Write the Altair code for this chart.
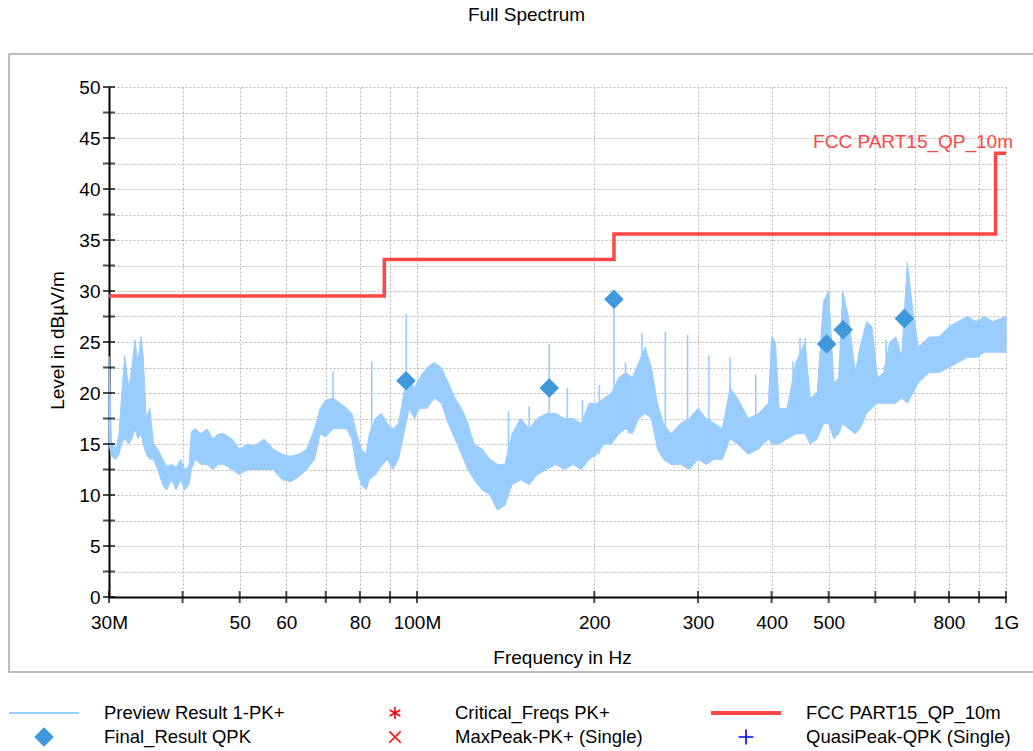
import altair as alt
import pandas as pd

FONT = "Liberation Sans"
TRACE = "#99CCFF"
DIAMOND = "#3F98DC"
LIMIT = "#FF4646"

# ---- Preview Result 1-PK+ (envelope of the dense trace), MHz / dBuV/m ----
pv_freq = [30.0, 30.3, 30.8, 31.2, 31.5, 31.9, 32.4, 32.8, 33.2, 33.6,
           34.0, 34.3, 34.7, 35.2, 35.7, 36.3, 37.0, 37.6, 38.3, 39.0,
           39.7, 40.3, 41.0, 41.4, 42.0, 43.0, 44.0, 45.0, 46.0, 47.0,
           48.5, 50.0, 51.5, 53.0, 55.0, 57.0, 59.0, 61.0, 63.0, 65.0,
           67.0, 68.5, 70.0, 72.0, 74.0, 76.0, 77.5, 79.0, 80.5, 82.0,
           83.0, 85.0, 87.0, 89.0, 91.0, 93.0, 95.0, 97.0, 99.0, 101,
           104, 107, 110, 113, 116, 119, 122, 125, 129, 133,
           137, 141, 145, 150, 155, 160, 166, 172, 178, 184,
           190, 196, 202, 208, 214, 220, 226, 232, 238, 244,
           250, 256, 262, 270, 280, 290, 300, 310, 320, 330,
           340, 350, 365, 380, 395, 400, 406, 412, 425, 440,
           456, 465, 478, 490, 500, 510, 520, 528, 540, 555,
           565, 580, 592, 605, 620, 635, 650, 665, 680, 695,
           710, 740, 770, 800, 830, 860, 890, 920, 950, 1000]
pv_low = [15.0, 13.8, 13.5, 14.0, 15.0, 15.5, 15.0, 15.5, 16.5, 15.5,
          16.0, 15.0, 14.0, 13.5, 13.5, 12.5, 11.0, 10.5, 11.5, 10.5,
          11.5, 10.5, 11.0, 12.5, 13.5, 13.0, 13.0, 12.5, 13.0, 13.0,
          12.5, 12.0, 12.5, 12.5, 12.5, 12.5, 11.5, 11.3, 11.8, 12.5,
          13.5, 16.0, 15.7, 16.5, 16.5, 16.5, 15.5, 12.5, 11.0, 10.5,
          11.5, 12.0, 12.8, 13.5, 12.5, 13.5, 16.0, 18.5, 17.5, 18.5,
          18.5, 19.5, 19.0, 17.0, 15.5, 14.0, 12.5, 11.5, 10.5, 10.0,
          8.5, 9.0, 11.0, 11.5, 11.0, 12.0, 12.5, 13.0, 12.5, 13.0,
          12.5, 13.5, 14.0, 15.0, 15.0, 16.0, 16.5, 16.0, 17.5, 18.0,
          17.5, 14.5, 13.5, 13.0, 13.0, 12.5, 13.5, 13.0, 13.5, 13.5,
          15.5, 15.0, 14.0, 14.5, 15.5, 15.0, 15.0, 15.0, 15.5, 16.0,
          16.0, 15.0, 15.5, 17.0, 17.0, 15.5, 16.0, 17.0, 16.5, 16.0,
          16.5, 18.0, 18.5, 19.0, 19.0, 19.0, 19.0, 19.5, 19.0, 20.0,
          21.0, 22.0, 22.0, 22.5, 23.0, 23.5, 23.5, 24.0, 24.0, 24.0]
pv_high = [23.6, 15.2, 14.5, 16.0, 19.5, 23.6, 20.5, 22.5, 25.2, 23.0,
           25.5, 23.5, 17.5, 18.5, 15.0, 14.5, 13.5, 12.8, 13.0, 12.7,
           13.5, 12.5, 12.8, 16.2, 16.5, 16.0, 16.5, 15.5, 16.0, 16.0,
           15.5, 14.5, 15.0, 14.8, 15.5, 14.5, 14.0, 13.8, 14.0, 14.5,
           16.5, 18.5, 19.3, 19.5, 19.0, 18.5, 18.0, 16.0, 14.5, 14.0,
           16.0, 17.5, 18.0, 17.0, 16.5, 17.0, 20.0, 21.5, 20.5, 21.5,
           22.5, 23.0, 22.5, 21.0, 19.5, 18.5, 17.0, 15.0, 14.5, 13.5,
           13.0, 13.0, 16.0, 17.5, 16.5, 17.5, 18.0, 18.0, 17.5, 17.5,
           17.0, 19.0, 19.0, 19.5, 20.0, 21.5, 22.0, 21.5, 23.0, 24.5,
           22.5, 19.0, 17.0, 16.0, 17.0, 17.5, 18.5, 17.5, 17.0, 16.5,
           20.5, 19.5, 17.5, 18.0, 19.0, 25.5, 25.0, 18.5, 18.5, 23.0,
           25.0, 19.5, 20.0, 29.0, 30.0, 21.0, 21.5, 30.0, 27.5, 22.0,
           24.5, 27.0, 26.5, 21.5, 22.0, 25.0, 25.5, 23.5, 32.8, 28.0,
           24.5, 25.5, 25.5, 26.5, 27.0, 27.5, 27.0, 27.5, 27.0, 27.5]

# isolated narrow spikes of the preview trace
spike_freq = [72.0, 83.8, 95.9, 143.0, 155.0, 167.7, 180.0, 191.0, 204.0, 216.0,
              221.0, 226.0, 229.0, 241.0, 264.0, 288.0, 313.0, 340.0, 376.0, 401.0,
              435.0, 447.0, 456.0, 626.0, 650.0, 765.0, 860.0, 897.0, 990.0]
spike_base = [17.0, 13.0, 19.0, 11.0, 11.0, 17.0, 15.5, 13.0, 14.0, 19.5,
              16.0, 16.5, 16.0, 19.0, 14.5, 14.0, 14.0, 15.5, 15.0, 15.0,
              16.0, 16.0, 16.0, 19.0, 19.0, 22.0, 23.5, 23.5, 24.0]
spike_top = [22.1, 23.1, 27.7, 18.2, 18.7, 24.8, 20.5, 19.3, 20.8, 29.0,
             21.0, 23.0, 21.8, 25.9, 26.0, 25.7, 23.7, 23.5, 21.8, 25.5,
             23.1, 25.4, 25.4, 25.2, 25.5, 25.4, 27.0, 27.3, 27.5]

# Final_Result QPK
final_freq = [95.8, 167.7, 216.0, 496.0, 529.0, 672.0]
final_level = [21.2, 20.5, 29.2, 24.8, 26.2, 27.3]

# FCC PART15_QP_10m limit (step)
limit_freq = [30, 88, 216, 960, 1000]
limit_level = [29.5, 33.1, 35.6, 43.5, 43.5]
limit_name = "FCC PART15_QP_10m"

xtick_values = [30, 40, 50, 60, 70, 80, 90, 100, 200, 300, 400, 500, 600, 700, 800, 900, 1000]
xtick_labels = ["30M", "", "50", "60", "", "80", "", "100M", "200", "300", "400", "500", "", "", "800", "", "1G"]
ytick_values = [i * 2.5 for i in range(21)]

legend_names = ["Preview Result 1-PK+", "Critical_Freqs PK+", "FCC PART15_QP_10m",
                "Final_Result QPK", "MaxPeak-PK+ (Single)", "QuasiPeak-QPK (Single)"]
legend_col = [0, 1, 2, 0, 1, 2]
legend_row = [0, 0, 0, 1, 1, 1]
legend_kind = ["line", "marker", "line", "diamond", "marker", "marker"]
legend_color = [TRACE, "#FF0000", LIMIT, DIAMOND, "#FF0000", "#0000FF"]
legend_width = [2, 1.5, 4, 0, 1.5, 1.5]
legend_shape = ["", "M0,-1L0,1M-0.87,-0.5L0.87,0.5M-0.87,0.5L0.87,-0.5", "", "diamond",
                "M-1,-1L1,1M-1,1L1,-1", "M-1,0L1,0M0,-1L0,1"]
legend_size = [0, 150, 0, 380, 130, 220]

# ---------------------------------------------------------------------------
W, H = 897, 510

label_expr = " : ".join(
    f"datum.value == {v} ? '{l}'" for v, l in zip(xtick_values, xtick_labels)
) + " : ''"

xscale = alt.Scale(type="log", domain=[30, 1000], nice=False)
yscale = alt.Scale(domain=[0, 50], nice=False)

xaxis = alt.Axis(values=xtick_values, labelExpr=label_expr, title="Frequency in Hz",
                 ticks=True, tickSize=0, tickOpacity=0, labelPadding=16,
                 titleX=453, titleY=60, titleBaseline="middle", titleAlign="center",
                 labelFlush=False, labelOverlap=False)
yaxis = alt.Axis(values=ytick_values, labelExpr="datum.value % 5 == 0 ? datum.value : ''",
                 title="Level in dBµV/m", ticks=True, tickSize=0, tickOpacity=0,
                 labelPadding=9, titleX=-52, titleY=253, titleBaseline="middle",
                 titleAlign="center", titleAngle=-90, labelFlush=False, labelOverlap=False)


def X(field="f"):
    return alt.X(f"{field}:Q", scale=xscale, axis=xaxis)


def Y(field="v"):
    return alt.Y(f"{field}:Q", scale=yscale, axis=yaxis)


pv_df = pd.DataFrame({"f": pv_freq, "v": pv_low, "v2": pv_high})
spike_df = pd.DataFrame({"f": spike_freq, "v": spike_base, "v2": spike_top})
final_df = pd.DataFrame({"f": final_freq, "v": final_level})
limit_df = pd.DataFrame({"f": limit_freq, "v": limit_level})
label_df = pd.DataFrame({"f": [limit_freq[-1]], "v": [limit_level[-1]], "t": [limit_name]})
ytick_df = pd.DataFrame({"f": [xtick_values[0]] * len(ytick_values), "v": ytick_values})
xtick_df = pd.DataFrame({"f": xtick_values, "v": [0] * len(xtick_values)})
legend_df = pd.DataFrame({"name": legend_names, "col": legend_col, "row": legend_row,
                          "kind": legend_kind, "clr": legend_color, "sw": legend_width,
                          "shp": legend_shape, "sz": legend_size})

frame = alt.Chart(pd.DataFrame({"a": [0]})).mark_rect(
    fillOpacity=0, stroke="#a8a8a8", strokeWidth=1.5
).encode(x=alt.value(-100), x2=alt.value(960), y=alt.value(-33), y2=alt.value(585))

area = alt.Chart(pv_df).mark_area(color=TRACE, opacity=1, strokeWidth=1, stroke=TRACE).encode(
    x=X(), y=Y(), y2="v2:Q")
spikes = alt.Chart(spike_df).mark_rule(color=TRACE, strokeWidth=1.6).encode(
    x=X(), y=Y(), y2="v2:Q")
limit = alt.Chart(limit_df).mark_line(color=LIMIT, strokeWidth=3.5, interpolate="step-after").encode(
    x=X(), y=Y())
finals = alt.Chart(final_df).mark_point(shape="diamond", filled=True, size=380, color=DIAMOND, opacity=1).encode(
    x=X(), y=Y())
limit_label = alt.Chart(label_df).mark_text(
    align="right", baseline="alphabetic", dx=7, dy=-5, color=LIMIT, fontSize=19, font=FONT
).encode(x=X(), y=Y(), text="t:N")
yticks = alt.Chart(ytick_df).mark_tick(orient="horizontal", size=12, thickness=2, color="black").encode(
    x=X(), y=Y())
xticks = alt.Chart(xtick_df).mark_tick(orient="vertical", size=12, thickness=2, color="black").encode(
    x=X(), y=Y())

leg_base = alt.Chart(legend_df).transform_calculate(
    lx="-5 + 351 * datum.col", sx="-65 + 351 * datum.col",
    lx1="-100 + 351 * datum.col", lx2="-30 + 351 * datum.col",
    ly="626 + 24 * datum.row")
LX = lambda f: alt.X(f"{f}:Q", scale=None, axis=None)
LY = alt.Y("ly:Q", scale=None, axis=None)

leg_text = leg_base.mark_text(align="left", baseline="middle", fontSize=18.5, font=FONT,
                              color="black").encode(x=LX("lx"), y=LY, text="name:N")
leg_lines = leg_base.transform_filter(alt.datum.kind == "line").mark_rule().encode(
    x=LX("lx1"), x2="lx2:Q", y=LY, color=alt.Color("clr:N", scale=None),
    strokeWidth=alt.StrokeWidth("sw:Q", scale=None))
leg_diamond = leg_base.transform_filter(alt.datum.kind == "diamond").mark_point(
    filled=True, opacity=1, shape="diamond").encode(
    x=LX("sx"), y=LY, color=alt.Color("clr:N", scale=None), size=alt.Size("sz:Q", scale=None))
leg_marks = leg_base.transform_filter(alt.datum.kind == "marker").mark_point(
    filled=False, opacity=1, strokeWidth=1.6).encode(
    x=LX("sx"), y=LY, color=alt.Color("clr:N", scale=None),
    shape=alt.Shape("shp:N", scale=None), size=alt.Size("sz:Q", scale=None))

chart = alt.layer(
    frame, area, spikes, limit, finals, limit_label, yticks, xticks,
    leg_text, leg_lines, leg_diamond, leg_marks
).properties(
    width=W, height=H,
    title=alt.TitleParams("Full Spectrum", font=FONT, fontSize=19, fontWeight="normal",
                          color="black", anchor="middle", dx=-31, offset=28),
    autosize=alt.AutoSizeParams(type="none"),
    padding={"left": 109, "top": 87, "right": 27, "bottom": 154},
).configure_axis(
    labelFont=FONT, titleFont=FONT, labelFontSize=19, titleFontSize=19,
    labelColor="black", titleColor="black", titleFontWeight="normal",
    gridColor="#b5b5b5", gridDash=[2, 2], gridWidth=1,
    domainColor="black", domainWidth=2,
).configure_view(stroke=None)

chart.save("out.html", embed_options={"renderer": "svg", "actions": False})
